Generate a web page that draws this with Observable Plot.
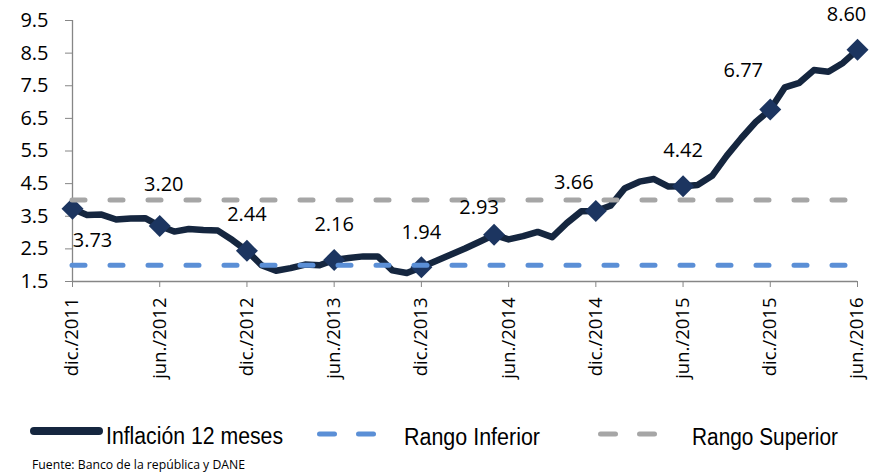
<!DOCTYPE html>
<html>
<head>
<meta charset="utf-8">
<script src="https://cdn.jsdelivr.net/npm/d3@7"></script>
<script src="https://cdn.jsdelivr.net/npm/@observablehq/plot@0.6"></script>
<style>
  body { margin: 0; background: #fff; }
  #wrap { position: relative; width: 885px; height: 476px; background: #fff; }
  #legend { position: absolute; left: 0; top: 400px; }
</style>
</head>
<body>
<div id="wrap"><div id="chart"></div><div id="legend"></div></div>
<script>
// Inflación 12 meses, monthly from dic./2011 to jun./2016
const inflation = [
  3.73, 3.54, 3.55, 3.40, 3.43, 3.44, 3.20, 3.03, 3.11, 3.08, 3.06, 2.77,
  2.44, 2.00, 1.83, 1.91, 2.02, 2.00, 2.16, 2.22, 2.27, 2.27, 1.84, 1.76,
  1.94, 2.13, 2.32, 2.51, 2.72, 2.93, 2.79, 2.89, 3.02, 2.86, 3.29, 3.65,
  3.66, 3.82, 4.36, 4.56, 4.64, 4.41, 4.42, 4.46, 4.74, 5.35, 5.89, 6.39,
  6.77, 7.45, 7.59, 7.98, 7.93, 8.20, 8.60
];
const tickLabels = ["dic./2011", "jun./2012", "dic./2012", "jun./2013", "dic./2013",
                    "jun./2014", "dic./2014", "jun./2015", "dic./2015", "jun./2016"];
const tickMonths = [0, 6, 12, 18, 24, 30, 36, 42, 48, 54];
const markerMonths = [0, 6, 12, 18, 24, 29, 36, 42, 48, 54];
const rangoInferior = 2;
const rangoSuperior = 4;
const yTicks = [1.5, 2.5, 3.5, 4.5, 5.5, 6.5, 7.5, 8.5, 9.5];
const legendLabels = ["Inflación 12 meses", "Rango Inferior", "Rango Superior"];
const caption = "Fuente: Banco de la república y DANE";

// label placement (styling only)
const labelOffsets = [[20, 32], [4, -41], [0, -36], [0, -35], [0, -35],
                      [-15, -27], [-22, -28], [0, -36], [-27, -39], [-11, -35]];

const navy = "#15263f";
const markerFill = "#1c3560";
const blue = "#5b8fd6";
const gray = "#a6a6a6";
const axisGray = "#868686";

const series = inflation.map((v, i) => ({m: i, v}));
const markers = markerMonths.map(m => ({m, v: inflation[m]}));

const dashStyle = {strokeWidth: 5, strokeDasharray: "13,25", strokeLinecap: "round"};

const labelMarks = markers.map((d, i) => Plot.text([d], {
  x: "m", y: "v", text: d => d.v.toFixed(2),
  dx: labelOffsets[i][0], dy: labelOffsets[i][1],
  fontSize: 20, fill: "#000"
}));

const chart = Plot.plot({
  width: 885,
  height: 400,
  marginLeft: 72,
  marginRight: 28,
  marginTop: 20,
  marginBottom: 119,
  style: {fontFamily: "'Open Sans', sans-serif", background: "#fff", color: "#000"},
  x: {domain: [0, 54], axis: null},
  y: {domain: [1.5, 9.5], axis: null},
  marks: [
    Plot.ruleY([1.5], {stroke: axisGray, strokeWidth: 1.3}),
    Plot.ruleX([0], {stroke: axisGray, strokeWidth: 1.3}),
    Plot.axisY(yTicks, {
      tickSize: 7, tickPadding: 17, tickFormat: d => d.toFixed(1),
      fontSize: 20, stroke: axisGray, fill: "#000", label: null
    }),
    Plot.axisX(tickMonths, {
      tickSize: 6, tickPadding: 10, tickRotate: -90,
      tickFormat: d => tickLabels[tickMonths.indexOf(d)],
      fontSize: 18.5, stroke: axisGray, fill: "#000", label: null
    }),
    Plot.line(series, {x: "m", y: "v", stroke: navy, strokeWidth: 6.5, strokeLinejoin: "round"}),
    Plot.dot(markers, {x: "m", y: "v", symbol: "diamond2", r: 9.9, fill: markerFill, stroke: "none"}),
    Plot.ruleY([rangoSuperior], {stroke: gray, ...dashStyle}),
    Plot.ruleY([rangoInferior], {stroke: blue, ...dashStyle}),
    ...labelMarks
  ]
});
document.getElementById("chart").appendChild(chart);

// Legend and source note below the chart
const ns = "http://www.w3.org/2000/svg";
const lg = d3.select("#legend").append("svg")
  .attr("xmlns", ns).attr("width", 885).attr("height", 76);
lg.append("line").attr("x1", 34).attr("x2", 99).attr("y1", 31).attr("y2", 31)
  .attr("stroke", navy).attr("stroke-width", 8).attr("stroke-linecap", "round");
[[317, 337], [356, 376]].forEach(([a, b]) =>
  lg.append("line").attr("x1", a + 2.5).attr("x2", b - 2.5).attr("y1", 34).attr("y2", 34)
    .attr("stroke", blue).attr("stroke-width", 5).attr("stroke-linecap", "round"));
[[598, 618], [637, 657]].forEach(([a, b]) =>
  lg.append("line").attr("x1", a + 2.5).attr("x2", b - 2.5).attr("y1", 34).attr("y2", 34)
    .attr("stroke", gray).attr("stroke-width", 5).attr("stroke-linecap", "round"));
const legendText = [[106, 44, 177], [404, 45, 136], [692, 45, 146]];
legendLabels.forEach((t, i) => {
  lg.append("text").attr("x", legendText[i][0]).attr("y", legendText[i][1])
    .attr("textLength", legendText[i][2]).attr("lengthAdjust", "spacingAndGlyphs")
    .attr("font-family", "'Liberation Sans', Arial, sans-serif").attr("font-size", 23.5)
    .attr("fill", "#000").text(t);
});
lg.append("text").attr("x", 32).attr("y", 69)
  .attr("textLength", 213).attr("lengthAdjust", "spacingAndGlyphs")
  .attr("font-family", "'Open Sans', sans-serif").attr("font-size", 13.5)
  .attr("fill", "#000").text(caption);
</script>
</body>
</html>
